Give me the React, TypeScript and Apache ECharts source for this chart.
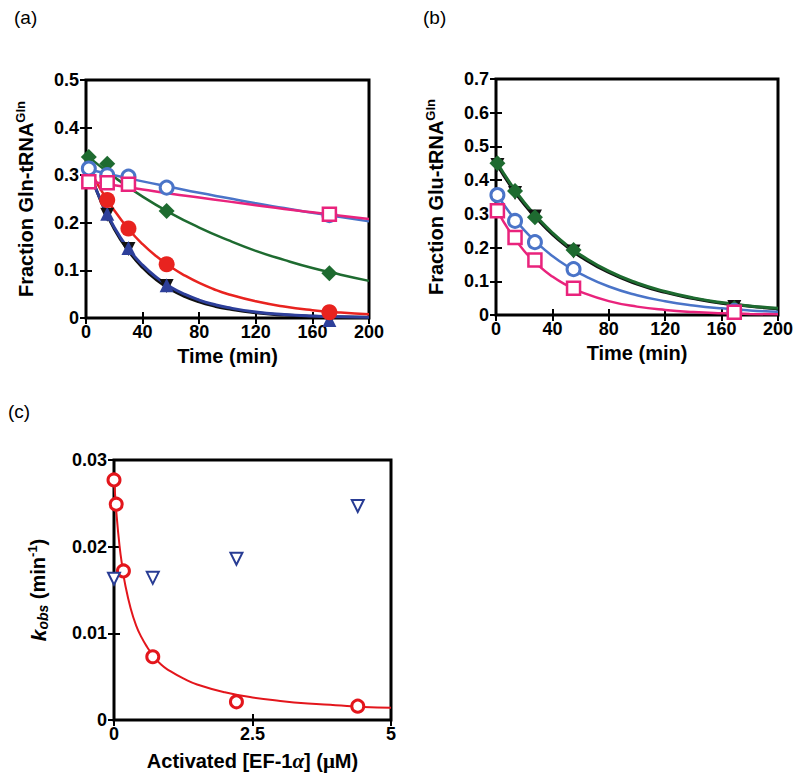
import React, { useEffect, useRef } from "react";
import * as echarts from "echarts";

const FONT = "'Liberation Sans', Arial, Helvetica, sans-serif";
const SERIF = "'Liberation Serif', 'DejaVu Serif', serif";

// ---------- Panel (a): Fraction Gln-tRNA(Gln) vs time ----------
const aTimeTicks = [0, 200, 40];
const aGreenPts = [[2, 0.338], [15, 0.324], [57, 0.225], [172, 0.094]];
const aGreenFit = [[2, 0.338], [20, 0.296], [40, 0.255], [60, 0.22], [80, 0.19], [100, 0.164], [120, 0.141], [140, 0.122], [160, 0.105], [180, 0.091], [200, 0.078]];
const aBluePts = [[2, 0.314], [15, 0.3], [30, 0.297], [57, 0.274], [172, 0.216]];
const aBlueFit = [[2, 0.312], [20, 0.3], [40, 0.287], [60, 0.275], [80, 0.263], [100, 0.252], [120, 0.241], [140, 0.231], [160, 0.221], [180, 0.212], [200, 0.203]];
const aPinkPts = [[2, 0.286], [15, 0.284], [30, 0.281], [172, 0.218]];
const aPinkFit = [[2, 0.287], [20, 0.279], [40, 0.27], [60, 0.261], [80, 0.253], [100, 0.245], [120, 0.237], [140, 0.229], [160, 0.222], [180, 0.215], [200, 0.208]];
const aRedPts = [[15, 0.248], [30, 0.188], [57, 0.113], [172, 0.012]];
const aRedFit = [[2, 0.316], [10, 0.272], [20, 0.226], [30, 0.187], [40, 0.155], [50, 0.129], [60, 0.107], [70, 0.089], [80, 0.0736], [90, 0.061], [100, 0.0505], [120, 0.035], [140, 0.024], [160, 0.0165], [180, 0.0113], [200, 0.0078]];
const aBlackPts = [[15, 0.217], [30, 0.145], [57, 0.067], [172, -0.002]];
const aBlackFit = [[2, 0.313], [10, 0.249], [20, 0.187], [30, 0.141], [40, 0.106], [50, 0.0797], [60, 0.0599], [70, 0.045], [80, 0.0339], [90, 0.0255], [100, 0.0192], [120, 0.0108], [140, 0.0061], [160, 0.0035], [180, 0.0019], [200, 0.0011]];
const aNavyPts = [[15, 0.219], [30, 0.147], [57, 0.069], [172, -0.004]];
const aNavyFit = [[2, 0.31], [10, 0.25], [20, 0.19], [30, 0.145], [40, 0.111], [50, 0.0848], [60, 0.0647], [70, 0.0494], [80, 0.0377], [90, 0.0288], [100, 0.022], [120, 0.0128], [140, 0.0075], [160, 0.0043], [180, 0.0025], [200, 0.0015]];

// ---------- Panel (b): Fraction Glu-tRNA(Gln) vs time ----------
const bGreenPts = [[1, 0.45], [13.5, 0.368], [27.6, 0.29], [55, 0.193], [169, 0.02]];
const bBlackPts = [[1, 0.445], [13.5, 0.362], [27.6, 0.292], [55, 0.188], [169, 0.024]];
const bGreenFit = [[1, 0.45], [10, 0.391], [20, 0.334], [30, 0.286], [40, 0.244], [50, 0.208], [60, 0.178], [80, 0.13], [100, 0.095], [120, 0.0696], [140, 0.0508], [160, 0.037], [180, 0.027], [200, 0.0198]];
const bBlackFit = [[1, 0.444], [10, 0.385], [20, 0.328], [30, 0.281], [40, 0.239], [50, 0.204], [60, 0.173], [80, 0.126], [100, 0.092], [120, 0.067], [140, 0.049], [160, 0.035], [180, 0.026], [200, 0.0185]];
const bBluePts = [[1, 0.356], [13.5, 0.279], [27.6, 0.216], [55, 0.136], [169, 0.012]];
const bBlueFit = [[1, 0.356], [10, 0.302], [20, 0.252], [30, 0.21], [40, 0.175], [50, 0.146], [60, 0.122], [80, 0.0845], [100, 0.0588], [120, 0.0408], [140, 0.0284], [160, 0.0197], [180, 0.0137], [200, 0.0095]];
const bPinkPts = [[1, 0.309], [13.5, 0.23], [27.6, 0.163], [55, 0.079], [169, 0.008]];
const bPinkFit = [[1, 0.309], [10, 0.246], [20, 0.19], [30, 0.147], [40, 0.114], [50, 0.0885], [60, 0.0686], [80, 0.0412], [100, 0.0248], [120, 0.0149], [140, 0.0089], [160, 0.0054], [180, 0.0032], [200, 0.0019]];

// ---------- Panel (c): k_obs vs activated EF-1alpha ----------
const cRedPts = [[0.0, 0.0277], [0.04, 0.0249], [0.17, 0.0172], [0.7, 0.0073], [2.21, 0.0021], [4.4, 0.0016]];
const cRedFit = [[0, 0.028], [0.05, 0.0234], [0.1, 0.0201], [0.15, 0.0177], [0.2, 0.0157], [0.3, 0.0129], [0.4, 0.0109], [0.5, 0.0095], [0.6, 0.0084], [0.7, 0.0075], [0.85, 0.0064], [1.0, 0.0057], [1.25, 0.0048], [1.5, 0.0041], [2.0, 0.0032], [2.5, 0.0026], [3.0, 0.0022], [3.5, 0.0019], [4.0, 0.0017], [4.5, 0.0015], [5.0, 0.0014]];
const cNavyPts = [[0.0, 0.0163], [0.7, 0.0164], [2.21, 0.0186], [4.4, 0.0247]];

const GREEN = "#1e6b30";
const BLUE = "#4a74c8";
const PINK = "#e9237c";
const RED = "#e8231f";
const BLACK = "#111111";
const NAVY = "#2d3f9a";
const C_RED = "#e3161c";
const C_NAVY = "#283c94";

function fit(data: number[][], x: number, y: number, color: string, width = 2.5, z = 2) {
  return {
    type: "line",
    xAxisIndex: x,
    yAxisIndex: y,
    data,
    smooth: 0.5,
    showSymbol: false,
    symbol: "none",
    lineStyle: { color, width },
    z,
    silent: true,
  };
}

function pts(
  data: number[][],
  x: number,
  y: number,
  symbol: string,
  size: number,
  fill: string,
  border: string,
  bw: number,
  z: number,
  rotate = 0
) {
  return {
    type: "scatter",
    xAxisIndex: x,
    yAxisIndex: y,
    data,
    symbol,
    symbolSize: size,
    symbolRotate: rotate,
    clip: false,
    itemStyle: { color: fill, borderColor: border, borderWidth: bw, opacity: 1 },
    z,
    silent: true,
  };
}

const tick = { inside: true, length: 6, lineStyle: { color: "#000", width: 2 } };
const labelStyle = { color: "#000", fontFamily: FONT, fontWeight: "bold", fontSize: 18 };
const nameBase = { fontFamily: FONT, fontWeight: "bold", fontSize: 20, color: "#000" };

function xAxes(grid: number, min: number, max: number, interval: number, name: string, gap: number, rich: any) {
  return [
    {
      type: "value",
      gridIndex: grid,
      position: "bottom",
      min,
      max,
      interval,
      name,
      nameLocation: "middle",
      nameGap: gap,
      nameTextStyle: { ...nameBase, rich },
      axisLine: { show: false },
      axisTick: tick,
      splitLine: { show: false },
      axisLabel: { ...labelStyle, margin: 5 },
    },
    {
      type: "value",
      gridIndex: grid,
      position: "top",
      min,
      max,
      interval,
      axisLine: { show: false },
      axisTick: tick,
      splitLine: { show: false },
      axisLabel: { show: false },
    },
  ];
}

function yAxes(grid: number, min: number, max: number, interval: number, name: string, gap: number, rich: any) {
  return [
    {
      type: "value",
      gridIndex: grid,
      position: "left",
      min,
      max,
      interval,
      name,
      nameLocation: "middle",
      nameGap: gap,
      nameRotate: 90,
      nameTextStyle: { ...nameBase, rich },
      axisLine: { show: false },
      axisTick: tick,
      splitLine: { show: false },
      axisLabel: { ...labelStyle, margin: 7 },
    },
    {
      type: "value",
      gridIndex: grid,
      position: "right",
      min,
      max,
      interval,
      axisLine: { show: false },
      axisTick: tick,
      splitLine: { show: false },
      axisLabel: { show: false },
    },
  ];
}

const richNames = {
  t: { fontFamily: FONT, fontWeight: "bold", fontSize: 20, color: "#000", lineHeight: 24 },
  sup: { fontFamily: FONT, fontWeight: "bold", fontSize: 13, color: "#000", verticalAlign: "top", lineHeight: 14 },
  sub: { fontFamily: FONT, fontWeight: "bold", fontSize: 14, fontStyle: "italic", color: "#000", verticalAlign: "bottom", lineHeight: 14 },
  k: { fontFamily: FONT, fontWeight: "bold", fontStyle: "italic", fontSize: 21, color: "#000", lineHeight: 24 },
  g: { fontFamily: SERIF, fontSize: 21, color: "#000", lineHeight: 24 },
  gi: { fontFamily: SERIF, fontStyle: "italic", fontSize: 21, color: "#000", lineHeight: 24 },
};

export default function App() {
  const ref = useRef<HTMLDivElement>(null);
  useEffect(() => {
    if (!ref.current) return;
    const chart = echarts.init(ref.current, null, { renderer: "svg" });
    const gridStyle = { show: true, borderColor: "#000", borderWidth: 3, backgroundColor: "transparent", containLabel: false };
    const option: any = {
      animation: false,
      backgroundColor: "#fff",
      textStyle: { fontFamily: FONT },
      grid: [
        { ...gridStyle, left: 86, top: 80, width: 283, height: 238 },
        { ...gridStyle, left: 496, top: 79, width: 282, height: 236 },
        { ...gridStyle, left: 114, top: 460, width: 277, height: 260 },
      ],
      xAxis: [
        ...xAxes(0, aTimeTicks[0], aTimeTicks[1], aTimeTicks[2], "{t|Time (min)}", 26, richNames),
        ...xAxes(1, 0, 200, 40, "{t|Time (min)}", 26, richNames),
        ...xAxes(2, 0, 5, 2.5, "{t|Activated [EF-1}{gi|α}{t|] (}{g|μ}{t|M)}", 29, richNames),
      ],
      yAxis: [
        ...yAxes(0, 0, 0.5, 0.1, "{t|Fraction Gln-tRNA}{sup|Gln}", 48, richNames),
        ...yAxes(1, 0, 0.7, 0.1, "{t|Fraction Glu-tRNA}{sup|Gln}", 48, richNames),
        ...yAxes(2, 0, 0.03, 0.01, "{k|k}{sub|obs}{t| (min}{sup|-1}{t|)}", 64, richNames),
      ],
      graphic: [
        { type: "text", left: 14, top: 8, style: { text: "(a)", font: `19px ${FONT}`, fill: "#000" } },
        { type: "text", left: 423, top: 8, style: { text: "(b)", font: `19px ${FONT}`, fill: "#000" } },
        { type: "text", left: 8, top: 402, style: { text: "(c)", font: `19px ${FONT}`, fill: "#000" } },
      ],
      series: [
        // panel (a) curves
        fit(aBlackFit, 0, 0, BLACK, 3, 2),
        fit(aNavyFit, 0, 0, NAVY, 3, 2),
        fit(aRedFit, 0, 0, RED, 2.5, 2),
        fit(aGreenFit, 0, 0, GREEN, 2.5, 2),
        fit(aBlueFit, 0, 0, BLUE, 2.5, 2),
        fit(aPinkFit, 0, 0, PINK, 2.5, 2),
        // panel (a) markers
        pts(aBlackPts, 0, 0, "triangle", 14, BLACK, BLACK, 0, 3, 180),
        pts(aNavyPts, 0, 0, "triangle", 14, NAVY, NAVY, 0, 4),
        pts(aRedPts, 0, 0, "circle", 16, RED, RED, 0, 4),
        pts(aGreenPts, 0, 0, "diamond", 16, GREEN, GREEN, 0, 4),
        pts(aBluePts, 0, 0, "circle", 13, "#fff", BLUE, 3, 5),
        pts(aPinkPts, 0, 0, "rect", 13, "#fff", PINK, 2.5, 6),
        // panel (b) curves
        fit(bBlackFit, 2, 2, BLACK, 3, 2),
        fit(bGreenFit, 2, 2, GREEN, 3, 2),
        fit(bBlueFit, 2, 2, BLUE, 2.5, 2),
        fit(bPinkFit, 2, 2, PINK, 2.5, 2),
        // panel (b) markers
        pts(bBlackPts, 2, 2, "triangle", 14, BLACK, BLACK, 0, 3, 180),
        pts(bGreenPts, 2, 2, "diamond", 16, GREEN, GREEN, 0, 4),
        pts(bBluePts, 2, 2, "circle", 13, "#fff", BLUE, 3, 5),
        pts(bPinkPts, 2, 2, "rect", 13, "#fff", PINK, 2.5, 6),
        // panel (c)
        fit(cRedFit, 4, 4, C_RED, 2, 2),
        pts(cRedPts, 4, 4, "circle", 12, "#fff", C_RED, 3, 4),
        pts(cNavyPts, 4, 4, "triangle", 12, "#fff", C_NAVY, 2, 4, 180),
      ],
    };
    chart.setOption(option);
    return () => chart.dispose();
  }, []);
  return (
    <div
      ref={ref}
      style={{ position: "fixed", left: 0, top: 0, width: 800, height: 779, background: "#fff" }}
    />
  );
}
